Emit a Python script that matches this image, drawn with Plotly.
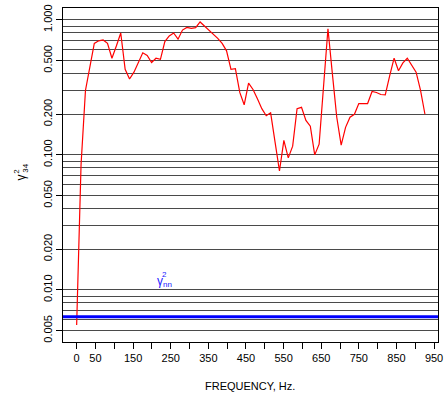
import plotly.graph_objects as go

# ---------------- data ----------------
FREQ_HZ = [0.0, 11.7, 23.4, 35.2, 46.9, 58.6, 70.3, 82.0, 93.8, 105.5,
           117.2, 128.9, 140.6, 152.3, 164.1, 175.8, 187.5, 199.2, 210.9, 222.7,
           234.4, 246.1, 257.8, 269.5, 281.3, 293.0, 304.7, 316.4, 328.1, 339.8,
           351.6, 363.3, 375.0, 386.7, 398.4, 410.2, 421.9, 433.6, 445.3, 457.0,
           468.8, 480.5, 492.2, 503.9, 515.6, 527.3, 539.1, 550.8, 562.5, 574.2,
           585.9, 597.7, 609.4, 621.1, 632.8, 644.5, 656.3, 668.0, 679.7, 691.4,
           703.1, 714.8, 726.6, 738.3, 750.0, 761.7, 773.4, 785.2, 796.9, 808.6,
           820.3, 832.0, 843.8, 855.5, 867.2, 878.9, 890.6, 902.3, 914.1, 925.8]

COHERENCE_34 = [0.0055, 0.085, 0.30, 0.45, 0.67, 0.70, 0.71, 0.67, 0.52, 0.64,
                0.80, 0.43, 0.365, 0.41, 0.48, 0.57, 0.545, 0.483, 0.52, 0.51,
                0.69, 0.76, 0.80, 0.72, 0.84, 0.88, 0.865, 0.875, 0.965, 0.90,
                0.85, 0.79, 0.73, 0.67, 0.59, 0.43, 0.435, 0.29, 0.235, 0.34,
                0.305, 0.26, 0.22, 0.195, 0.205, 0.125, 0.076, 0.128, 0.095, 0.116,
                0.22, 0.225, 0.18, 0.163, 0.10, 0.12, 0.33, 0.86, 0.40, 0.19,
                0.118, 0.16, 0.19, 0.20, 0.24, 0.24, 0.24, 0.295, 0.29, 0.28,
                0.278, 0.385, 0.52, 0.42, 0.48, 0.52, 0.465, 0.41, 0.30, 0.20]

NOISE_COHERENCE = 0.00633  # gamma^2_nn level

X_TICKS = [0, 50, 100, 150, 200, 250, 300, 350, 400, 450,
           500, 550, 600, 650, 700, 750, 800, 850, 900, 950]
X_TICK_LABELS = ["0", "50", "", "150", "", "250", "", "350", "", "450",
                 "", "550", "", "650", "", "750", "", "850", "", "950"]

Y_MAJOR = [0.005, 0.01, 0.02, 0.05, 0.1, 0.2, 0.5, 1.0]
Y_MAJOR_LABELS = ["0.005", "0.010", "0.020", "0.050", "0.100", "0.200", "0.500", "1.000"]
Y_MINOR = [0.006, 0.007, 0.008, 0.009, 0.03, 0.04, 0.06, 0.07, 0.08, 0.09,
           0.3, 0.4, 0.6, 0.7, 0.8, 0.9]

# ---------------- layout geometry ----------------
W, H = 448, 398
ML, MR, MT, MB = 63, 9, 5, 56
PW, PH = W - ML - MR, H - MT - MB
FONT = "Liberation Sans, Arial, Helvetica, sans-serif"


def paper(px, py):
    return (px - ML) / PW, (H - MB - py) / PH


fig = go.Figure()
fig.add_trace(go.Scatter(x=FREQ_HZ, y=COHERENCE_34, mode="lines",
                         line=dict(color="#ff0000", width=1.2),
                         showlegend=False, hoverinfo="skip"))

fig.add_shape(type="line", xref="paper", x0=0, x1=1, yref="y",
              y0=NOISE_COHERENCE, y1=NOISE_COHERENCE,
              line=dict(color="#0000ff", width=3), layer="above")

grid_col = "#4a4a4a"
fig.update_layout(
    width=W, height=H,
    margin=dict(l=ML, r=MR, t=MT, b=MB, pad=0),
    paper_bgcolor="white", plot_bgcolor="white",
    font=dict(family=FONT, size=11, color="black"),
    xaxis=dict(range=[-36.3, 960.5], tickmode="array", tickvals=X_TICKS,
               ticktext=X_TICK_LABELS, ticks="outside", ticklen=6, tickwidth=1,
               tickcolor="black", showgrid=False, zeroline=False,
               showline=True, linecolor="black", linewidth=1, mirror=True,
               tickfont=dict(size=11, family=FONT)),
    yaxis=dict(type="log", range=[-2.386, 0.088], tickmode="array",
               tickvals=Y_MAJOR, ticktext=Y_MAJOR_LABELS, tickangle=-90,
               ticks="outside", ticklen=6, tickwidth=1, tickcolor="black",
               showgrid=True, gridcolor=grid_col, gridwidth=1.4,
               zeroline=False, showline=True, linecolor="black", linewidth=1,
               mirror=True, tickfont=dict(size=11, family=FONT),
               minor=dict(tickmode="array", tickvals=Y_MINOR, showgrid=True,
                          gridcolor=grid_col, gridwidth=1.4, ticklen=0)),
)

anns = []
# x-axis title
xx, yy = paper(250.8, 386.7)
anns.append(dict(text="FREQUENCY, Hz.", x=xx, y=yy, xref="paper", yref="paper",
                 showarrow=False, xanchor="center", yanchor="middle",
                 font=dict(size=11, family=FONT, color="black")))
# y-axis title gamma^2_34 (rotated)
for txt, px, py, sz in [("γ", 20.5, 176.5, 12), ("2", 15.5, 169.5, 8), ("34", 24.5, 166.5, 8)]:
    xx, yy = paper(px, py)
    anns.append(dict(text=txt, x=xx, y=yy, xref="paper", yref="paper", textangle=-90,
                     showarrow=False, xanchor="center", yanchor="middle",
                     font=dict(size=sz, family=FONT, color="black")))
# gamma^2_nn label in blue
for txt, px, py, sz in [("γ", 160.5, 280.0, 12), ("2", 165.0, 274.0, 8), ("nn", 168.0, 283.5, 8)]:
    xx, yy = paper(px, py)
    anns.append(dict(text=txt, x=xx, y=yy, xref="paper", yref="paper",
                     showarrow=False, xanchor="center", yanchor="middle",
                     font=dict(size=sz, family=FONT, color="#2020ff")))
fig.update_layout(annotations=anns)

fig.write_html("out.html")
